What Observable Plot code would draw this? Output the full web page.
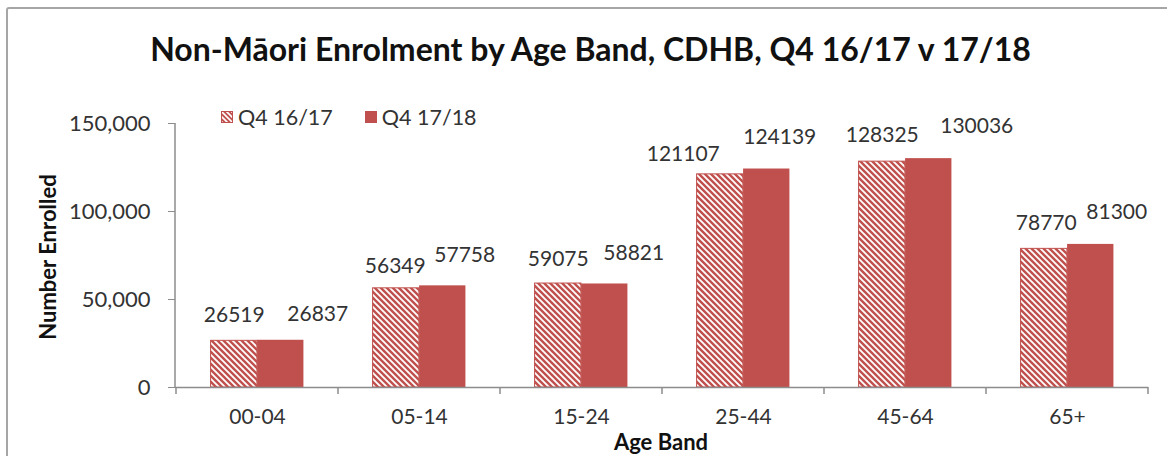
<!DOCTYPE html>
<html>
<head>
<meta charset="utf-8">
<script src="https://cdn.jsdelivr.net/npm/d3@7"></script>
<script src="https://cdn.jsdelivr.net/npm/@observablehq/plot@0.6"></script>
<style>
  html, body { margin: 0; padding: 0; background: #fff; }
  #wrap { position: relative; width: 1167px; height: 456px; overflow: hidden; background: #fff; font-family: Lato, "Open Sans", sans-serif; }
  #box { position: absolute; left: 6px; top: 7px; width: 1300px; height: 600px; border: 2px solid #a6a6a6; border-radius: 3px; box-sizing: border-box; }
  #title { position: absolute; left: 0; top: 29px; width: 1181px; text-align: center; font-weight: 700; font-size: 32px; color: #111; white-space: nowrap; }
  #legend { position: absolute; left: 221px; top: 104px; display: flex; align-items: center; font-size: 21.5px; color: #333; white-space: nowrap; }
  #legend .item { display: flex; align-items: center; margin-right: 32px; }
  #legend svg { margin-right: 5px; }
  #ytitle { position: absolute; left: 47px; top: 257px; transform: translate(-50%, -50%) rotate(-90deg); font-weight: 700; font-size: 22px; color: #111; white-space: nowrap; }
  #xtitle { position: absolute; left: 661px; top: 441px; transform: translate(-50%, -50%); font-weight: 700; font-size: 22px; color: #111; white-space: nowrap; }
  #chart { position: absolute; left: 0; top: 0; }
</style>
</head>
<body>
<div id="wrap">
  <div id="box"></div>
  <div id="chart"></div>
  <div id="title">Non-Māori Enrolment by Age Band, CDHB, Q4 16/17 v 17/18</div>
  <div id="legend"></div>
  <div id="ytitle">Number Enrolled</div>
  <div id="xtitle">Age Band</div>
</div>
<script>
// Enrolment counts by age band for the two quarters
const ageBands = ["00-04", "05-14", "15-24", "25-44", "45-64", "65+"];
const q4_1617 = [26519, 56349, 59075, 121107, 128325, 78770];
const q4_1718 = [26837, 57758, 58821, 124139, 130036, 81300];
const seriesNames = ["Q4 16/17", "Q4 17/18"];
const yTicks = [0, 50000, 100000, 150000];

// Hand-placed value labels: [dx, dy] from the top centre of each bar
const labelNudge1617 = [[0, -26], [-1, -22], [0, -24], [-37, -20], [0, -26], [2, -26]];
const labelNudge1718 = [[37, -26], [22, -31], [29, -31], [13, -32], [48, -32], [26, -32]];

const red = "#C0504D";
const W = 1167, H = 456;
const marginLeft = 175, marginRight = 19, marginTop = 123, marginBottom = 69;
const step = (W - marginLeft - marginRight) / ageBands.length;
const barW = 46.5;
const outerGap = (step - 2 * barW) / 2;

const rows = ageBands.flatMap((band, i) => [
  {band, series: seriesNames[0], value: q4_1617[i], nudge: labelNudge1617[i]},
  {band, series: seriesNames[1], value: q4_1718[i], nudge: labelNudge1718[i]}
]);
const first = rows.filter(d => d.series === seriesNames[0]);
const second = rows.filter(d => d.series === seriesNames[1]);

const labelMarks = rows.map(d => Plot.text([d], {
  x: "band",
  y: "value",
  text: d => String(d.value),
  dx: (d.series === seriesNames[0] ? -(barW / 2) : barW / 2) + d.nudge[0],
  dy: d.nudge[1],
  fontSize: 21,
  fill: "#333",
  lineAnchor: "middle"
}));

const plot = Plot.plot({
  width: W,
  height: H,
  marginLeft, marginRight, marginTop, marginBottom,
  style: {fontFamily: "Lato, 'Open Sans', sans-serif", fontSize: "21px", color: "#333", background: "transparent"},
  x: {domain: ageBands, padding: 0, axis: null},
  y: {domain: [0, 150000], axis: null},
  marks: [
    Plot.barY(first, {
      x: "band", y: "value",
      fill: "url(#hatch)", stroke: red, strokeWidth: 1,
      insetLeft: outerGap, insetRight: outerGap + barW
    }),
    Plot.barY(second, {
      x: "band", y: "value",
      fill: red,
      insetLeft: outerGap + barW, insetRight: outerGap
    }),
    Plot.ruleY([0], {stroke: "#8c8c8c", strokeWidth: 1.5}),
    Plot.axisY({
      ticks: yTicks, tickFormat: d3.format(","), tickSize: 7, tickPadding: 18,
      stroke: "#8c8c8c", fill: "#333", fontSize: 22, label: null
    }),
    Plot.axisX({tickSize: 0, tickPadding: 22, fill: "#333", fontSize: 21, label: null}),
    ...labelMarks
  ]
});

document.getElementById("chart").appendChild(plot);

// Diagonal hatch for the earlier quarter
const svg = d3.select(plot);
const defs = svg.insert("defs", ":first-child");
function addHatch(defs, id, s, w) {
  const p = defs.append("pattern").attr("id", id)
    .attr("patternUnits", "userSpaceOnUse").attr("width", s).attr("height", s);
  p.append("rect").attr("width", s).attr("height", s).attr("fill", red);
  p.append("path")
    .attr("d", `M-1,-1L${s + 1},${s + 1}M${s - 1},-1L${s + 1},1M-1,${s - 1}L1,${s + 1}`)
    .attr("stroke", "#fff").attr("stroke-width", w);
}
addHatch(defs, "hatch", 6, 1.8);

// Category boundary ticks and the vertical axis line, from the plot's scales
const xs = plot.scale("x"), ys = plot.scale("y");
const y0 = ys.apply(0), yTop = ys.apply(150000);
const bounds = ageBands.map(b => xs.apply(b)).concat([xs.apply(ageBands[ageBands.length - 1]) + xs.bandwidth]);
const g = svg.append("g").attr("stroke", "#8c8c8c").attr("stroke-width", 1.5);
g.selectAll("line.b").data(bounds).join("line")
  .attr("x1", d => d).attr("x2", d => d).attr("y1", y0).attr("y2", y0 + 7);
g.append("line").attr("x1", xs.range[0]).attr("x2", xs.range[0]).attr("y1", yTop).attr("y2", y0);

// Legend
const legend = d3.select("#legend");
seriesNames.forEach((name, i) => {
  const item = legend.append("div").attr("class", "item");
  const sw = item.append("svg").attr("width", 12).attr("height", 12);
  if (i === 0) {
    addHatch(sw.append("defs"), "hatchKey", 5, 1.6);
    sw.append("rect").attr("x", 0.5).attr("y", 0.5).attr("width", 11).attr("height", 11)
      .attr("fill", "url(#hatchKey)").attr("stroke", red);
  } else {
    sw.append("rect").attr("width", 12).attr("height", 12).attr("fill", red);
  }
  item.append("span").text(name);
});
</script>
</body>
</html>
